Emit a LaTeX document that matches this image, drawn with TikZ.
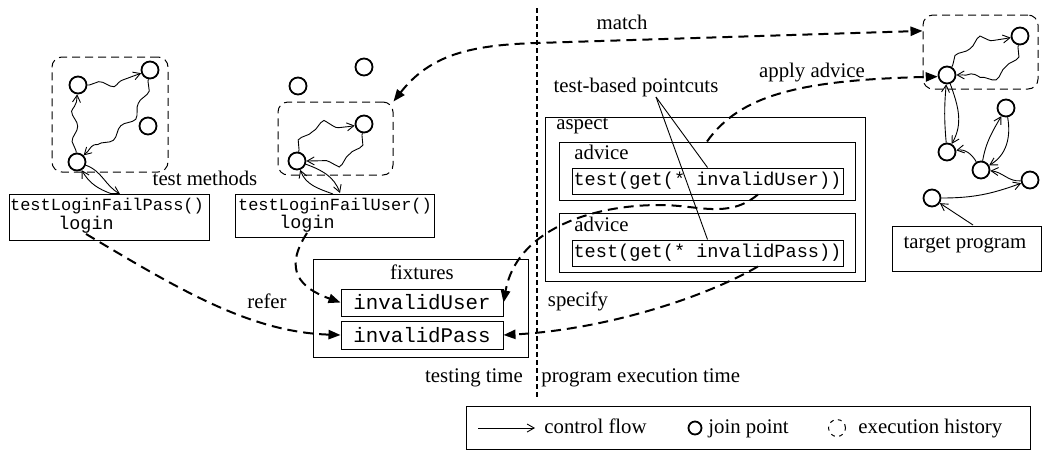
\documentclass[tikz,border=0pt]{standalone}
\usepackage{fontspec}
\setmainfont{Liberation Serif}
\setmonofont{Liberation Mono}
\usepackage{tikz}
\usetikzlibrary{arrows.meta,decorations.pathmorphing}

\begin{document}
\begin{tikzpicture}[x=0.5pt, y=-0.5pt, >={Straight Barb[length=3.5pt,width=4pt]},
  every node/.style={font=\fontsize{10.4}{12}\selectfont, inner sep=0pt},
  jp/.style={circle, draw, line width=0.9pt, minimum size=8.5pt},
  hist/.style={draw, rounded corners=5pt, line width=0.5pt, dash pattern=on 4pt off 2.5pt},
  box/.style={draw, line width=0.5pt},
  code/.style={font=\ttfamily\fontsize{#1}{#1}\selectfont},
  flow/.style={->, line width=0.45pt},
  wavy/.style={flow, decorate, decoration={snake, amplitude=1.6pt, segment length=15pt, pre length=1pt, post length=3pt}},
  link/.style={-{Triangle[length=6pt,width=4.6pt]}, line width=1pt, dash pattern=on 5pt off 3pt},
  divider/.style={line width=0.8pt, dash pattern=on 2.5pt off 1.5pt}]
\useasboundingbox (0,0) rectangle (1048,456);

\draw [divider] (537,8) -- (537,400);

% test methods
\node [hist, minimum width=58pt, minimum height=57.5pt] (h1) at (110,114.5) {};
\node [jp] (a1) at (78,85) {};
\node [jp] (a2) at (150,70) {};
\node [jp] (a3) at (148,126) {};
\node [jp] (a4) at (77,162) {};
\node [box, minimum width=100pt, minimum height=23pt] (tm1) at (109,217) {};
\node [code=8.5] (sig1) at (107,206) {testLoginFailPass()};
\node [code=9.2] (login1) at (86,225) {login};
\coordinate (tm1a) at (120,194);
\coordinate (tm1b) at (112,194);
\node (tm) at (205,178) {test methods};

\node [jp] (b1) at (298,86) {};
\node [jp] (b2) at (364,67) {};
\node [hist, minimum width=57.5pt, minimum height=36.5pt] (h2) at (335.5,138.5) {};
\node [jp] (b3) at (364,124) {};
\node [jp] (b4) at (297,161) {};
\node [box, minimum width=99.5pt, minimum height=21.5pt] (tm2) at (334.5,215.5) {};
\node [code=8.5] (sig2) at (335,206) {testLoginFailUser()};
\node [code=9.2] (login2) at (307,224) {login};
\coordinate (tm2a) at (340,193);
\coordinate (tm2b) at (333,194);

\draw [wavy] (a4) to[out=95,in=-95] (a1);
\draw [wavy] (a1) to[out=0,in=200] (a2);
\draw [wavy] (a2) to[out=-100,in=45] (a4);
\draw [flow] (a4) to[out=-20,in=150] (tm1a);
\draw [flow] (tm1b) to[out=160,in=-60] (a4);
\draw [wavy] (b4) to[out=80,in=190] (b3);
\draw [wavy] (b3) to[out=-100,in=0] (b4);
\draw [flow] (b4) to[out=-20,in=110] (tm2a);
\draw [flow] (tm2b) to[out=160,in=-70] (b4);

% fixtures
\node [box, minimum width=107.5pt, minimum height=49pt] (fix) at (420.5,308) {};
\node (fixl) at (422,272) {fixtures};
\node [box, code=10.4, minimum width=81pt, minimum height=13.5pt] (fu) at (422,302.5) {invalidUser};
\node [box, code=10.4, minimum width=81pt, minimum height=14pt] (fp) at (422,335) {invalidPass};
\node (tt) at (474,378) {testing time};
\node [anchor=west] (pt) at (541,378) {program execution time};

% aspect with its two advices
\node [box, minimum width=160pt, minimum height=82pt] (asp) at (705,199) {};
\node [anchor=west] (aspl) at (556,126) {aspect};
\node [box, minimum width=148pt, minimum height=29pt] (adv1) at (707,171) {};
\node [anchor=west] (adv1l) at (574,152) {advice};
\node [box, code=9.3, minimum width=135.5pt, minimum height=13pt] (pc1) at (707.5,181) {test(get(* invalidUser))};
\node [box, minimum width=148pt, minimum height=29.5pt] (adv2) at (707,242.5) {};
\node [anchor=west] (adv2l) at (574,224) {advice};
\node [box, code=9.3, minimum width=135.5pt, minimum height=13pt] (pc2) at (707.5,253) {test(get(* invalidPass))};
\node (tbp) at (636,87) {test-based pointcuts};
\coordinate (tbpc) at (656,97);
\draw [line width=0.45pt] (tbpc) -- (pc1.north);
\draw [line width=0.45pt] (tbpc) -- (pc2.north);

% target program
\node [hist, minimum width=57.5pt, minimum height=37pt] (h3) at (980.5,52) {};
\node [jp] (t1) at (1020,36) {};
\node [jp] (t2) at (947,75) {};
\node [jp] (t3) at (947,152) {};
\node [jp] (t4) at (1006,108) {};
\node [jp] (t5) at (981,170) {};
\node [jp] (t6) at (1030,180) {};
\node [jp] (t7) at (932,198) {};
\node [box, minimum width=74.5pt, minimum height=22.5pt] (tp) at (966.5,248.5) {};
\node (tpl) at (965,245) {target program};
\coordinate (tpa) at (973,225);

\draw [wavy] (t2) to[out=60,in=190] (t1);
\draw [wavy] (t1) to[out=-100,in=0] (t2);
\draw [flow] (t2) to[out=-70,in=60] (t3);
\draw [flow] (t3) to[out=95,in=-95] (t2);
\draw [flow] (t5) to[out=120,in=10] (t3);
\draw [flow] (t5) to[out=80,in=-120] (t4);
\draw [flow] (t4) to[out=-80,in=30] (t5);
\draw [flow] (t6) to[out=185,in=-5] (t5);
\draw [flow] (t7) to[out=0,in=200] (t6);
\draw [flow] (tpa) -- (t7);

% dashed relations
\draw [link, {Triangle[length=6pt,width=4.6pt]}-{Triangle[length=6pt,width=4.6pt]}]
  (h2.north east) .. controls (430,55) and (470,45) .. (537,43) -- (h3.160);
\node (match) at (622,22) {match};
\draw [link] (adv1.north) .. controls (740,95) and (800,80) .. (t2.190);
\node (apply) at (812,73) {apply advice};
\draw [link] (login1.south) .. controls (180,290) and (250,332) .. (fp.west);
\node (refer) at (267,301) {refer};
\draw [link] (login2.south) .. controls (283,270) and (300,288) .. (fu.west);
\draw [link] (pc1.-15) to[out=-140,in=0] (660,205) to[out=180,in=80] (fu.east);
\draw [link] (pc2.-15) .. controls (700,300) and (600,330) .. (fp.east);
\node (spec) at (578,301) {specify};

% legend
\node [box, minimum width=282pt, minimum height=21.5pt] (leg) at (748,428) {};
\coordinate (lg1) at (478,428);
\coordinate (lg2) at (535,428);
\draw [flow] (lg1) -- (lg2);
\node [anchor=base west] (lgf) at (544,433) {control flow};
\node [jp, minimum size=6.5pt] (lgj) at (695,428) {};
\node [anchor=base west] (lgjl) at (708,433) {join point};
\node [circle, draw, line width=0.5pt, dash pattern=on 2pt off 2.2pt, minimum size=8.5pt] (lgh) at (837,428) {};
\node [anchor=base west] (lghl) at (858,433) {execution history};
\end{tikzpicture}
\end{document}
